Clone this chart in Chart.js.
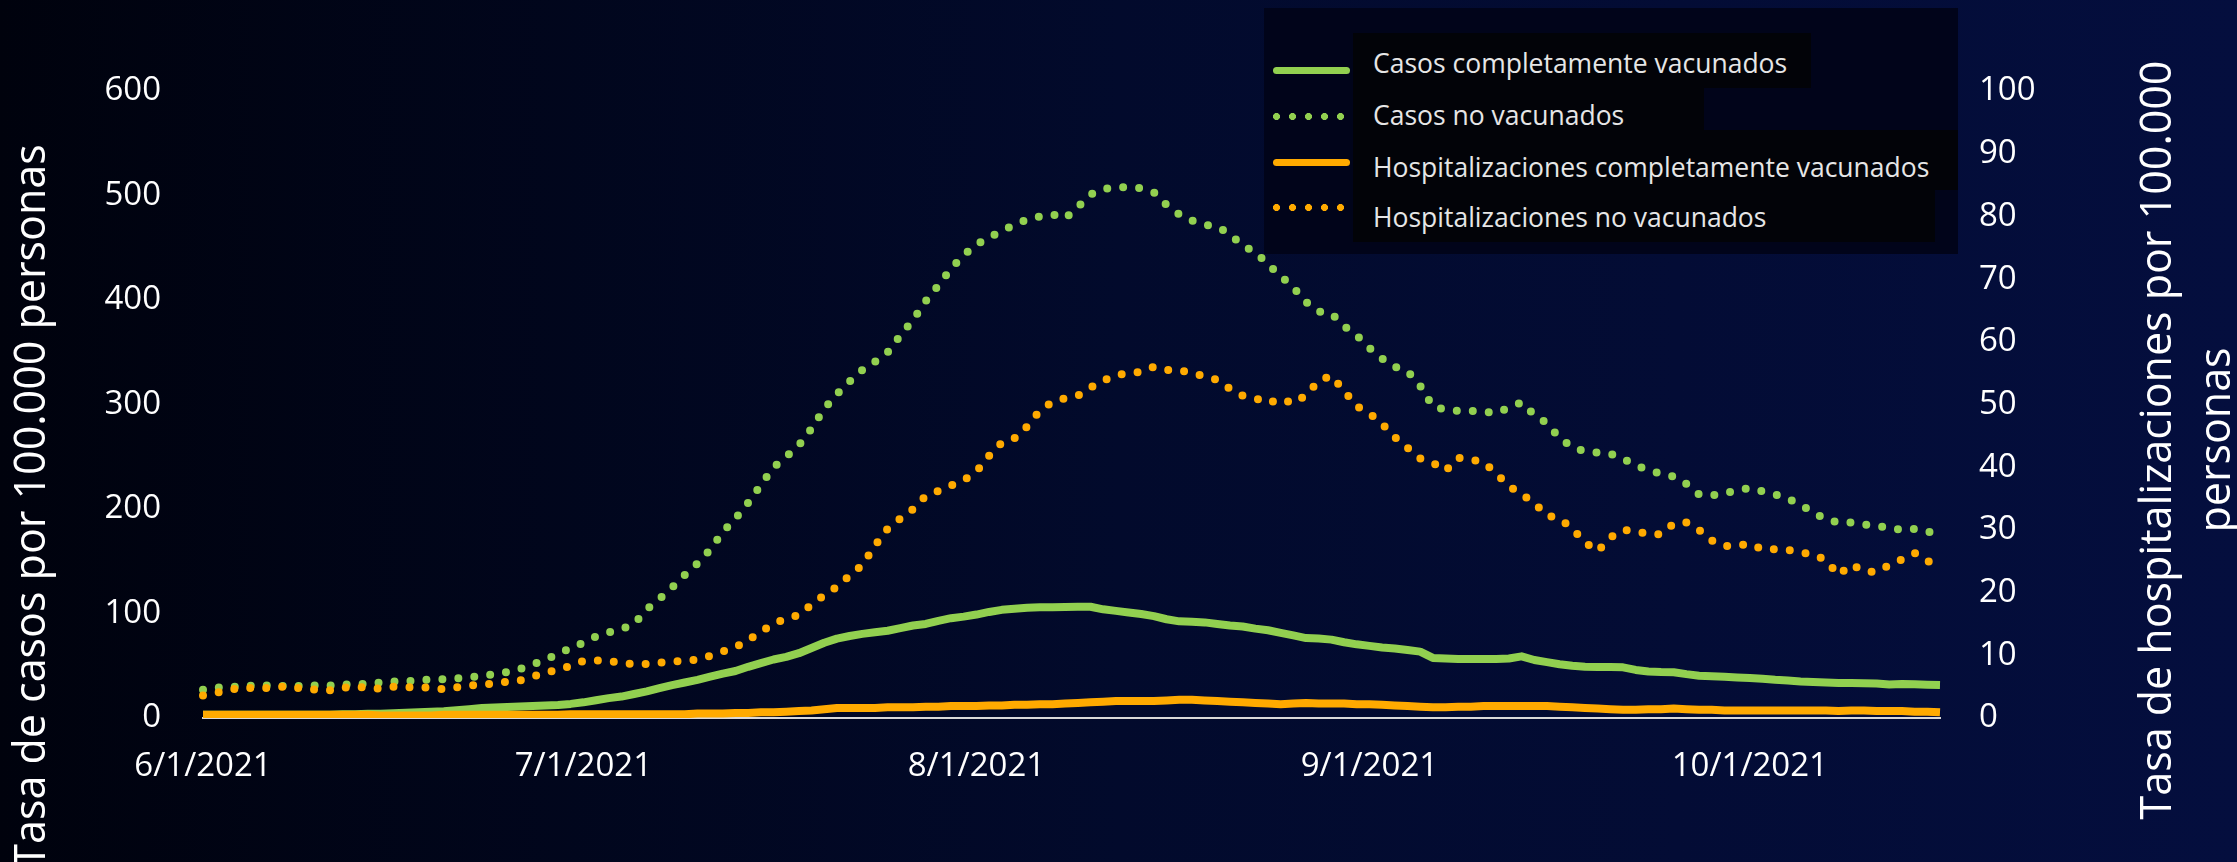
<!DOCTYPE html>
<html>
<head>
<meta charset="utf-8">
<script src="https://cdn.jsdelivr.net/npm/chart.js@4.4.0/dist/chart.umd.min.js"></script>
<style>
  html, body { margin: 0; padding: 0; }
  body {
    width: 2237px;
    height: 862px;
    overflow: hidden;
    position: relative;
    background: linear-gradient(to right, #00020d 0%, #020a2c 50%, #040e3e 100%);
    font-family: 'Open Sans', sans-serif;
  }
  #chart { position: absolute; left: 0; top: 0; }
  #legend {
    position: absolute;
    left: 1264px;
    top: 8px;
    width: 694px;
    height: 246px;
    background: #01041a;
  }
  .legend-hl { position: absolute; background: #020308; }
  .legend-text {
    position: absolute;
    left: 109px;
    font-size: 26.5px;
    line-height: 36px;
    color: #e6e6e6;
    white-space: nowrap;
  }
  .legend-sample { position: absolute; left: 9px; width: 77px; height: 7px; }
</style>
</head>
<body>
<canvas id="chart" width="2237" height="862"></canvas>
<div id="legend"></div>
<script>
const GREEN = '#92d050'
const ORANGE = '#ffaa00'

const leftTitle = 'Tasa de casos por 100.000 personas'
const rightTitle = ['Tasa de hospitalizaciones por 100.000', 'personas']

// one value per day, 6/1/2021 .. 10/16/2021
const firstDay = new Date(2021, 5, 1)
const dayCount = 138
const monthTicks = ['6/1/2021', '7/1/2021', '8/1/2021', '9/1/2021', '10/1/2021']

// cases per 100,000 (left axis)
const casosVacunados = [
  3, 3, 3, 3, 3, 3, 3, 3, 3, 3,
  3, 3.5, 3.5, 4, 4, 4.5, 5, 5.5, 6, 6.5,
  7.5, 8.5, 9.5, 10, 10.5, 11, 11.5, 12, 12.5, 13.5,
  15, 17, 19, 20.5, 23, 25.5, 28.5, 31.5, 34, 36.5,
  39.5, 42.5, 45, 49, 52.5, 56, 58.5, 62, 67, 72,
  76, 78.5, 80.5, 82, 83.5, 86, 88.5, 90, 93, 95.5,
  97, 99, 101.5, 103.5, 104.5, 105.5, 106, 106, 106.2, 106.5,
  106.5, 104, 102.5, 101, 99.5, 97.5, 94.5, 92.5, 92, 91.5,
  90, 88.5, 87.5, 85.5, 84, 81.5, 79, 76.5, 76, 75,
  72.5, 70.5, 69, 67.5, 66.5, 65, 63.5, 57.5, 57, 56.5,
  56.5, 56.5, 56.5, 57, 59, 55.5, 53.5, 51.5, 50, 49,
  48.8, 48.8, 48.5, 46, 44.5, 44, 43.8, 42, 40.5, 40,
  39.5, 38.8, 38.3, 37.5, 36.5, 35.8, 35, 34.5, 34, 33.6,
  33.5, 33.3, 33.1, 32, 32.5, 32.3, 31.8, 31.5,
]
const casosNoVacunados = [
  27, 29, 30, 30, 31, 31, 31, 30, 31, 31,
  31, 32, 32, 33, 34, 35, 35, 36, 37, 37,
  38, 39, 40, 42, 44, 47, 51, 56, 61, 67,
  72, 78, 82, 85, 90, 104, 114, 125, 137, 148,
  161, 178, 191, 206, 223, 240, 250, 261, 277, 296,
  310, 322, 333, 341, 350, 366, 381, 399, 414, 430,
  443, 453, 460, 466, 472, 477, 480, 482, 478, 489,
  501, 506, 508, 508, 507, 503, 491, 482, 476, 472,
  470, 463, 452, 446, 434, 423, 412, 398, 389, 387,
  375, 366, 354, 344, 336, 332, 318, 298, 295, 294,
  294, 293, 292, 297, 302, 290, 282, 268, 259, 255,
  254, 253, 248, 242, 237, 234, 231, 224, 214, 213,
  215, 218, 220, 217, 214, 210, 204, 197, 190, 187,
  187, 185, 184, 182, 180, 181, 178, 178,
]

// hospitalizations per 100,000 (right axis)
const hospVacunados = [
  0.5, 0.5, 0.5, 0.5, 0.5, 0.5, 0.5, 0.5, 0.5, 0.5,
  0.5, 0.5, 0.5, 0.5, 0.4, 0.4, 0.4, 0.4, 0.4, 0.5,
  0.5, 0.5, 0.5, 0.5, 0.5, 0.5, 0.5, 0.5, 0.5, 0.6,
  0.6, 0.6, 0.6, 0.6, 0.6, 0.6, 0.6, 0.6, 0.6, 0.7,
  0.7, 0.7, 0.8, 0.8, 0.9, 0.9, 1.0, 1.1, 1.2, 1.4,
  1.6, 1.6, 1.6, 1.6, 1.7, 1.7, 1.7, 1.8, 1.8, 1.9,
  1.9, 1.9, 2.0, 2.0, 2.1, 2.1, 2.2, 2.2, 2.3, 2.4,
  2.5, 2.6, 2.7, 2.7, 2.7, 2.7, 2.8, 2.9, 2.9, 2.8,
  2.7, 2.6, 2.5, 2.4, 2.3, 2.2, 2.3, 2.4, 2.3, 2.3,
  2.3, 2.2, 2.2, 2.1, 2.0, 1.9, 1.8, 1.7, 1.7, 1.8,
  1.8, 1.9, 1.9, 1.9, 1.9, 1.9, 1.9, 1.8, 1.7, 1.6,
  1.5, 1.4, 1.3, 1.3, 1.4, 1.4, 1.5, 1.4, 1.3, 1.3,
  1.2, 1.2, 1.2, 1.2, 1.2, 1.2, 1.2, 1.2, 1.2, 1.1,
  1.2, 1.2, 1.1, 1.1, 1.1, 1.0, 1.0, 0.9,
]
const hospNoVacunados = [
  3.6, 4.0, 4.5, 4.8, 4.8, 4.8, 5.0, 4.9, 4.7, 4.5,
  4.4, 4.8, 5.0, 4.8, 4.7, 5.0, 4.9, 4.9, 4.8, 4.6,
  4.9, 5.2, 5.3, 5.5, 5.8, 6.0, 6.6, 7.2, 7.7, 8.3,
  9.1, 9.2, 9.1, 8.8, 8.6, 8.6, 8.8, 9.0, 9.1, 9.3,
  9.9, 10.6, 11.3, 12.4, 13.8, 15.0, 15.9, 16.4, 18.1, 19.6,
  20.9, 22.7, 24.4, 27.5, 30.2, 31.8, 33.3, 35.4, 36.2, 37.1,
  37.9, 39.3, 41.8, 43.9, 44.6, 46.5, 49.0, 50.4, 51.0, 51.4,
  52.7, 53.8, 54.7, 55.0, 55.2, 56.0, 55.5, 55.5, 55.0, 54.5,
  53.9, 52.5, 51.4, 51.0, 50.2, 50.9, 50.2, 51.5, 53.8, 54.6,
  52.2, 49.7, 48.6, 46.9, 44.8, 43.1, 41.4, 40.7, 39.4, 41.5,
  41.2, 40.8, 39.0, 37.0, 35.7, 34.3, 32.3, 31.8, 30.2, 28.0,
  26.6, 28.8, 30.0, 29.8, 29.3, 29.3, 31.0, 31.2, 30.0, 28.3,
  27.4, 27.5, 27.8, 26.9, 26.9, 26.8, 26.4, 26.1, 25.2, 22.8,
  24.5, 23.4, 23.3, 24.4, 25.3, 26.3, 25.0, 24.5,
]

const labels = []
for (let i = 0; i < dayCount; i++) {
  const d = new Date(firstDay.getFullYear(), firstDay.getMonth(), firstDay.getDate() + i)
  labels.push(`${d.getMonth() + 1}/${d.getDate()}/${d.getFullYear()}`)
}

// legend layout (page pixels, relative to the legend box)
const legendHighlights = [
  [89, 25, 458, 55],
  [89, 80, 351, 42],
  [89, 122, 605, 60],
  [89, 182, 582, 52],
]
const legendTextCenters = [55, 107, 159, 209]
const legendSampleCenters = [62, 108, 154, 199]

const htmlLegend = {
  id: 'htmlLegend',
  afterUpdate(chart) {
    const box = document.getElementById('legend')
    box.innerHTML = ''
    chart.data.datasets.forEach((ds, i) => {
      const [l, t, w, h] = legendHighlights[i]
      const hl = document.createElement('div')
      hl.className = 'legend-hl'
      hl.style.cssText = `left:${l}px;top:${t}px;width:${w}px;height:${h}px`
      box.appendChild(hl)

      const sample = document.createElement('div')
      sample.className = 'legend-sample'
      sample.style.top = legendSampleCenters[i] - 3.5 + 'px'
      if (ds.borderDash) {
        sample.style.backgroundImage = `radial-gradient(circle at 3.5px 3.5px, ${ds.borderColor} 3.2px, transparent 3.8px)`
        sample.style.backgroundSize = '16px 7px'
        sample.style.backgroundRepeat = 'repeat-x'
      } else {
        sample.style.background = ds.borderColor
        sample.style.borderRadius = '3.5px'
      }
      box.appendChild(sample)

      const text = document.createElement('div')
      text.className = 'legend-text'
      text.style.top = legendTextCenters[i] - 18 + 'px'
      text.textContent = ds.label
      box.appendChild(text)
    })
  },
}

const axisTitles = {
  id: 'axisTitles',
  afterDraw(chart) {
    const ctx = chart.ctx
    ctx.save()
    ctx.fillStyle = '#ffffff'
    ctx.font = '43px "Open Sans"'
    ctx.textAlign = 'center'
    ctx.textBaseline = 'middle'
    const rotated = (text, x, y) => {
      ctx.save()
      ctx.translate(x, y)
      ctx.rotate(-Math.PI / 2)
      ctx.fillText(text, 0, 0)
      ctx.restore()
    }
    rotated(leftTitle, 33, 506)
    rotated(rightTitle[0], 2159, 440)
    rotated(rightTitle[1], 2218, 440)
    ctx.restore()
  },
}

const tickFont = { family: 'Open Sans', size: 33 }

new Chart(document.getElementById('chart').getContext('2d'), {
  type: 'line',
  data: {
    labels,
    datasets: [
      {
        label: 'Casos completamente vacunados',
        data: casosVacunados,
        yAxisID: 'y',
        borderColor: GREEN,
        borderWidth: 8,
        order: 3,
      },
      {
        label: 'Casos no vacunados',
        data: casosNoVacunados,
        yAxisID: 'y',
        borderColor: GREEN,
        borderWidth: 8,
        borderDash: [0, 16],
        borderCapStyle: 'round',
        order: 4,
      },
      {
        label: 'Hospitalizaciones completamente vacunados',
        data: hospVacunados,
        yAxisID: 'y2',
        borderColor: ORANGE,
        borderWidth: 8,
        order: 1,
      },
      {
        label: 'Hospitalizaciones no vacunados',
        data: hospNoVacunados,
        yAxisID: 'y2',
        borderColor: ORANGE,
        borderWidth: 8,
        borderDash: [0, 16],
        borderCapStyle: 'round',
        order: 2,
      },
    ],
  },
  options: {
    responsive: false,
    animation: false,
    events: [],
    layout: { padding: { top: 91, left: 0, right: 0, bottom: 0 } },
    elements: {
      point: { radius: 0 },
      line: { tension: 0, borderJoinStyle: 'round' },
    },
    plugins: {
      legend: { display: false },
      tooltip: { enabled: false },
    },
    scales: {
      x: {
        grid: { display: false, drawTicks: false },
        border: { display: true, color: '#d9d9d9', width: 2 },
        ticks: {
          autoSkip: false,
          maxRotation: 0,
          minRotation: 0,
          padding: 29,
          color: '#ffffff',
          font: tickFont,
          callback: (value, index) => (monthTicks.includes(labels[index]) ? labels[index] : null),
        },
        afterFit: (scale) => {
          scale.height = 144
        },
      },
      y: {
        position: 'left',
        min: 0,
        max: 600,
        grid: { display: false, drawTicks: false },
        border: { display: false },
        ticks: { stepSize: 100, padding: 42, color: '#ffffff', font: tickFont },
        afterFit: (scale) => {
          scale.width = 203
        },
      },
      y2: {
        position: 'right',
        min: 0,
        max: 100,
        grid: { display: false, drawTicks: false },
        border: { display: false },
        ticks: { stepSize: 10, padding: 39, color: '#ffffff', font: tickFont },
        afterFit: (scale) => {
          scale.width = 297
        },
      },
    },
  },
  plugins: [htmlLegend, axisTitles],
})
</script>
</body>
</html>
